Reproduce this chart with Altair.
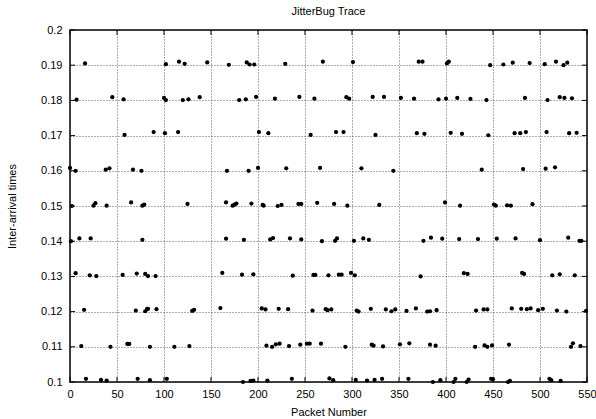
import altair as alt
import pandas as pd

# ---- data (packet number, inter-arrival time) ----
x_019 = [16, 102, 116, 122, 146, 169, 188, 191, 196, 229, 269, 301, 371, 375, 401, 403, 447, 461, 471, 489, 505, 517, 525, 529]
y_019 = [.1905, .1903, .1910, .1904, .1908, .1901, .1908, .1902, .1902, .1904, .1910, .1909, .1910, .1910, .1905, .1910, .1900, .1902, .1907, .1906, .1903, .1910, .1900, .1907]

x_018 = [7, 45, 57, 100, 102, 120, 126, 138, 180, 187, 198, 218, 244, 260, 294, 297, 322, 334, 352, 366, 392, 400, 412, 426, 443, 484, 508, 521, 526, 534]
y_018 = [.1802, .1809, .1803, .1807, .1801, .1801, .1803, .1809, .1801, .1803, .1810, .1805, .1810, .1805, .1809, .1805, .1810, .1810, .1807, .1805, .1803, .1805, .1807, .1804, .1801, .1807, .1801, .1809, .1807, .1806]

x_017 = [58, 89, 101, 115, 201, 211, 256, 283, 291, 325, 369, 377, 405, 417, 445, 473, 479, 485, 507, 531, 539]
y_017 = [.1702, .1710, .1707, .1710, .1710, .1707, .1702, .1710, .1710, .1702, .1707, .1705, .1708, .1705, .1701, .1707, .1707, .1710, .1710, .1707, .1708]

x_016 = [0, 6, 38, 42, 67, 76, 167, 190, 200, 230, 266, 310, 344, 438, 482, 506, 516]
y_016 = [.1608, .1600, .1603, .1607, .1603, .1600, .1600, .1600, .1608, .1607, .1608, .1607, .1600, .1603, .1605, .1606, .1610]

x_015 = [2, 25, 27, 39, 65, 77, 79, 125, 166, 173, 175, 177, 193, 205, 206, 221, 225, 243, 246, 263, 281, 295, 329, 399, 415, 451, 453, 465, 469, 492]
y_015 = [.1500, .1501, .1508, .1501, .1510, .1501, .1504, .1506, .1510, .1501, .1504, .1507, .1507, .1503, .1501, .1500, .1503, .1506, .1506, .1509, .1506, .1501, .1503, .1510, .1501, .1504, .1501, .1502, .1501, .1505]

x_014 = [1, 10, 22, 77, 166, 185, 213, 216, 234, 246, 268, 282, 284, 302, 312, 318, 376, 384, 396, 414, 434, 454, 474, 500, 530, 542, 544]
y_014 = [.1400, .1408, .1408, .1404, .1407, .1404, .1405, .1409, .1408, .1405, .1400, .1401, .1408, .1401, .1408, .1404, .1401, .1410, .1407, .1406, .1406, .1407, .1408, .1403, .1410, .1401, .1401]

x_013 = [6, 21, 28, 56, 71, 80, 83, 91, 162, 183, 195, 237, 259, 261, 275, 286, 289, 299, 303, 373, 419, 423, 481, 483, 513, 521, 537]
y_013 = [.1309, .1303, .1301, .1304, .1308, .1307, .1301, .1301, .1310, .1305, .1306, .1302, .1304, .1304, .1303, .1305, .1305, .1310, .1303, .1300, .1309, .1307, .1310, .1307, .1303, .1306, .1303]

x_012 = [15, 70, 80, 82, 83, 92, 130, 132, 160, 204, 208, 222, 232, 258, 272, 274, 278, 305, 307, 320, 336, 342, 346, 358, 368, 380, 383, 390, 432, 440, 444, 470, 480, 486, 490, 498, 503, 518, 528, 549]
y_012 = [.1205, .1203, .1201, .1208, .1208, .1207, .1202, .1205, .1210, .1209, .1206, .1208, .1207, .1203, .1207, .1204, .1206, .1203, .1200, .1208, .1206, .1201, .1206, .1202, .1209, .1200, .1201, .1204, .1203, .1206, .1206, .1209, .1208, .1207, .1209, .1204, .1208, .1203, .1200, .1202]

x_011 = [12, 43, 61, 63, 85, 111, 127, 209, 215, 219, 223, 233, 245, 252, 255, 267, 293, 321, 323, 333, 351, 361, 383, 389, 431, 441, 444, 449, 467, 533, 535, 543]
y_011 = [.1102, .1100, .1108, .1108, .1100, .1100, .1102, .1103, .1100, .1107, .1109, .1102, .1106, .1109, .1109, .1109, .1100, .1106, .1103, .1101, .1107, .1110, .1106, .1103, .1100, .1104, .1100, .1104, .1106, .1100, .1110, .1102]

x_010 = [17, 33, 39, 72, 85, 103, 184, 192, 195, 210, 236, 276, 280, 304, 316, 324, 332, 360, 386, 394, 408, 410, 422, 424, 448, 450, 466, 468, 510, 512, 522]
y_010 = [.1009, .1006, .1004, .1009, .1005, .1009, .1000, .1003, .1004, .1004, .1009, .1010, .1005, .1006, .1004, .1006, .1009, .1009, .1000, .1005, .1000, .1009, .1000, .1007, .1009, .1008, .1000, .1003, .1009, .1005, .1003]

x_ticks = [0, 50, 100, 150, 200, 250, 300, 350, 400, 450, 500, 550]
y_ticks = [0.10, 0.11, 0.12, 0.13, 0.14, 0.15, 0.16, 0.17, 0.18, 0.19, 0.20]

packets = x_019 + x_018 + x_017 + x_016 + x_015 + x_014 + x_013 + x_012 + x_011 + x_010
times = y_019 + y_018 + y_017 + y_016 + y_015 + y_014 + y_013 + y_012 + y_011 + y_010
df = pd.DataFrame({"packet": packets, "time": times})
xt = pd.DataFrame({"packet": x_ticks})
yt = pd.DataFrame({"time": y_ticks})

W, H = 517, 352
FONT = "Liberation Sans"

xscale = alt.Scale(domain=[0, 550], nice=False, zero=False)
yscale = alt.Scale(domain=[0.1, 0.2], nice=False, zero=False)

common = dict(grid=True, ticks=False, domain=False, labelOverlap=False,
              labelFont=FONT, labelFontSize=11, labelColor="black",
              titleFont=FONT, titleFontSize=11, titleFontWeight="normal",
              titleColor="black", gridColor="#333333", gridDash=[1, 2],
              gridWidth=0.8, gridOpacity=1, labelFlush=False)

xaxis = alt.Axis(values=x_ticks, labelPadding=6, titlePadding=7, **common)
yaxis = alt.Axis(values=y_ticks, format=".2~f", labelPadding=8, titlePadding=23, **common)

X = lambda: alt.X("packet:Q", scale=xscale, title="Packet Number", axis=xaxis)
Y = lambda: alt.Y("time:Q", scale=yscale, title="Inter-arrival times", axis=yaxis)

points = alt.Chart(df).mark_circle(color="black", opacity=1, size=18).encode(x=X(), y=Y())

tick_len = 5
bx = alt.Chart(xt).mark_rule(color="black", strokeWidth=1).encode(
    x=X(), y=alt.value(H - tick_len), y2=alt.value(H))
tx = alt.Chart(xt).mark_rule(color="black", strokeWidth=1).encode(
    x=X(), y=alt.value(0), y2=alt.value(tick_len))
ly = alt.Chart(yt).mark_rule(color="black", strokeWidth=1).encode(
    y=Y(), x=alt.value(0), x2=alt.value(tick_len))
ry = alt.Chart(yt).mark_rule(color="black", strokeWidth=1).encode(
    y=Y(), x=alt.value(W - tick_len), x2=alt.value(W))

chart = alt.layer(points, bx, tx, ly, ry).properties(
    width=W, height=H,
    background="white",
    title=alt.TitleParams("JitterBug Trace", font=FONT, fontSize=11,
                          fontWeight="normal", anchor="middle", offset=7),
    autosize=alt.AutoSizeParams(type="none"),
    padding={"left": 70, "top": 30, "right": 9, "bottom": 37},
).configure_view(
    stroke="black", strokeWidth=1.5
)

chart.save("out.html", embed_options={"renderer": "svg", "actions": False})
